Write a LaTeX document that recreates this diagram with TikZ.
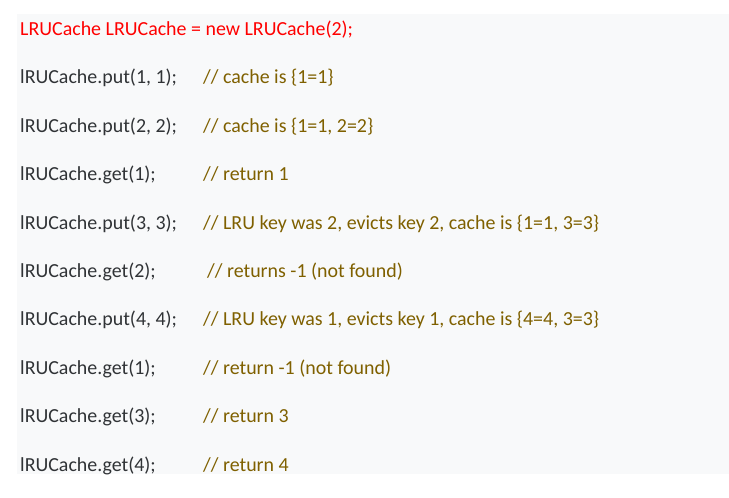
\documentclass[tikz,border=0pt]{standalone}
\usepackage{fontspec}
\setmainfont{Carlito}
\definecolor{codebg}{HTML}{F8F9FA}
\definecolor{codered}{HTML}{FF0000}
\definecolor{codetext}{HTML}{303336}
\definecolor{codecmt}{HTML}{7F6000}
\begin{document}
\begin{tikzpicture}[x=1bp,y=-1bp]
    \useasboundingbox (0,0) rectangle (729,498);
    \fill[codebg] (17,14) rectangle (729,474);
    \begin{scope}[every node/.style = {anchor=base west, inner sep=0pt, font=\fontsize{20}{24}\selectfont}]
        \node[codered](0) at (20,35.5) {LRUCache LRUCache = new LRUCache(2);};
        \node[codetext](1) at (20,83.9) {lRUCache.put(1, 1);};
        \node[codetext](2) at (20,132.3) {lRUCache.put(2, 2);};
        \node[codetext](3) at (20,180.7) {lRUCache.get(1);};
        \node[codetext](4) at (20,229.1) {lRUCache.put(3, 3);};
        \node[codetext](5) at (20,277.5) {lRUCache.get(2);};
        \node[codetext](6) at (20,325.9) {lRUCache.put(4, 4);};
        \node[codetext](7) at (20,374.3) {lRUCache.get(1);};
        \node[codetext](8) at (20,422.7) {lRUCache.get(3);};
        \node[codetext](9) at (20,471.1) {lRUCache.get(4);};
    \end{scope}

    \begin{scope}[every node/.style = {anchor=base west, inner sep=0pt, codecmt, font=\fontsize{20}{24}\selectfont}]
        \node(c1) at (203,83.9) {// cache is \{1=1\}};
        \node(c2) at (203,132.3) {// cache is \{1=1, 2=2\}};
        \node(c3) at (203,180.7) {// return 1};
        \node(c4) at (203,229.1) {// LRU key was 2, evicts key 2, cache is \{1=1, 3=3\}};
        \node(c5) at (207,277.5) {// returns -1 (not found)};
        \node(c6) at (203,325.9) {// LRU key was 1, evicts key 1, cache is \{4=4, 3=3\}};
        \node(c7) at (203,374.3) {// return -1 (not found)};
        \node(c8) at (203,422.7) {// return 3};
        \node(c9) at (203,471.1) {// return 4};
    \end{scope}
\end{tikzpicture}
\end{document}
